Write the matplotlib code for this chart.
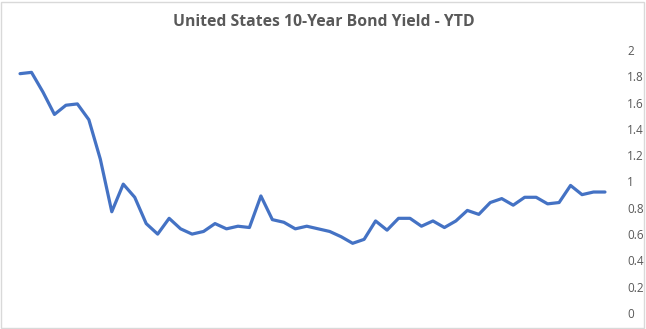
import matplotlib
matplotlib.use("Agg")
import matplotlib.pyplot as plt
from matplotlib.patches import Rectangle

title = "United States 10-Year Bond Yield - YTD"
yields = [1.82, 1.83, 1.68, 1.51, 1.58, 1.59, 1.47, 1.17, 0.77, 0.98, 0.88, 0.68, 0.60,
          0.72, 0.64, 0.60, 0.62, 0.68, 0.64, 0.66, 0.65, 0.89, 0.71, 0.69, 0.64, 0.66,
          0.64, 0.62, 0.58, 0.53, 0.56, 0.70, 0.63, 0.72, 0.72, 0.66, 0.70, 0.65, 0.70,
          0.78, 0.75, 0.84, 0.87, 0.82, 0.88, 0.88, 0.83, 0.84, 0.97, 0.90, 0.92, 0.92]
yticks = [0, 0.2, 0.4, 0.6, 0.8, 1.0, 1.2, 1.4, 1.6, 1.8, 2.0]
ytick_labels = ["0", "0.2", "0.4", "0.6", "0.8", "1", "1.2", "1.4", "1.6", "1.8", "2"]

W, H = 646, 329
fig = plt.figure(figsize=(W / 100, H / 100), dpi=100)
fig.patch.set_facecolor("white")
fig.add_artist(Rectangle((0.5 / W, 1.5 / H), (W - 3) / W, (H - 3) / H,
                         transform=fig.transFigure, fill=False,
                         edgecolor="#d9d9d9", linewidth=1.0))

left, right = 14.3 / W, 610.7 / W
bottom, top = (H - 313) / H, (H - 50) / H
ax = fig.add_axes([left, bottom, right - left, top - bottom])
x = list(range(len(yields)))
ax.plot(x, yields, color="#4472C4", linewidth=2.3, solid_joinstyle="round",
        solid_capstyle="round")
ax.set_xlim(-0.5, len(yields) - 0.5)
ax.set_ylim(0, 2)
ax.set_yticks(yticks)
ax.set_yticklabels(ytick_labels)
ax.yaxis.tick_right()
ax.tick_params(axis="y", length=0, pad=12, labelsize=8.5, labelcolor="#595959")
for lab in ax.get_yticklabels():
    lab.set_horizontalalignment("left")
    lab.set_fontfamily("Open Sans")
ax.set_xticks([])
for s in ax.spines.values():
    s.set_visible(False)
ax.patch.set_alpha(0)

fig.text(0.5 * (175 + 472) / W, (H - 22) / H, title, ha="center", va="center",
         fontsize=11.3, fontweight="bold", color="#595959", family="Open Sans")

fig.savefig("out.png", dpi=100, facecolor="white")
